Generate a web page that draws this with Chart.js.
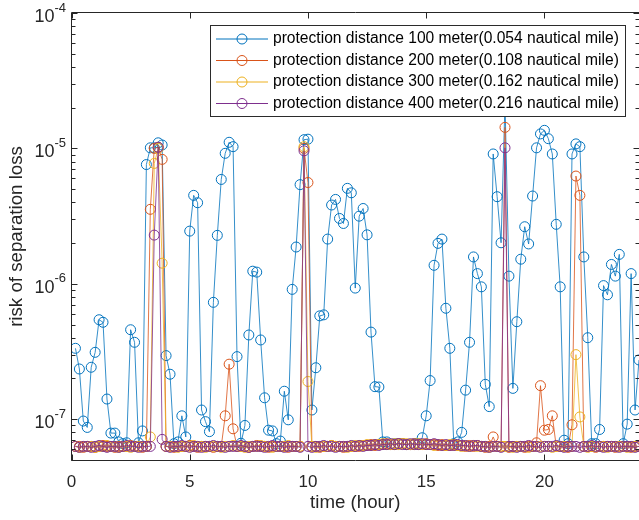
<!DOCTYPE html>
<html>
<head>
<meta charset="utf-8">
<script src="https://cdn.jsdelivr.net/npm/chart.js@4.4.1/dist/chart.umd.min.js"></script>
<style>
  html, body { margin: 0; padding: 0; background: #ffffff; }
  #wrap { width: 639px; height: 520px; position: relative; }
</style>
</head>
<body>
<div id="wrap"><canvas id="chart" width="639" height="520"></canvas></div>
<script>
// Samples every 10 minutes over one day (10 min ... 1440 min).
const STEP_MINUTES = 10;
const SAMPLE_COUNT = 144;
const timeHours = Array.from({ length: SAMPLE_COUNT }, (_, i) => (i + 1) * STEP_MINUTES / 60);

// Risk of separation loss, in units of 1e-8 (12 samples = 2 hours per row).
const RISK_UNIT = 1e-8;

const risk100m = [
  33.4, 23.5, 9.7, 8.7, 24.2, 31.2, 54.3, 52, 14.1, 7.9, 7.9, 6.8,
  6.6, 6.7, 45.8, 37, 6.7, 8.2, 760, 1010, 1010, 1100, 1060, 29.5,
  21.5, 6.6, 6.8, 10.6, 7.4, 245, 450, 397, 11.7, 9.6, 8.1, 73,
  228, 590, 920, 1110, 1030, 29, 6.65, 9.0, 41.9, 124, 122, 38.5,
  14.4, 8.3, 8.2, 6.6, 6.9, 16.1, 9.9, 91, 187, 540, 1160, 1170,
  11.7, 24, 58, 59, 214, 382, 420, 304, 279, 507, 470, 93,
  316, 360, 230, 44, 17.4, 17.3, 6.8, 6.8, 6.5, 6.6, 6.6, 6.6,
  6.5, 6.5, 6.6, 6.6, 7.3, 10.6, 19.3, 137, 199, 214, 66, 33.4,
  6.6, 6.8, 8.0, 16.4, 37, 158, 119, 95, 18.1, 12.4, 910, 440,
  201, 2200, 114, 16.9, 52.5, 152, 264, 197, 445, 1010, 1280, 1360,
  1180, 910, 275, 95, 7.0, 6.6, 910, 1080, 1030, 158, 40, 6.6,
  6.6, 8.4, 97, 83, 139, 114, 165, 6.6, 9.2, 119, 11.7, 27.4
];

const risk200m = [
  6.3, 6.3, 6.2, 6.3, 6.3, 6.2, 6.3, 6.4, 6.3, 6.3, 6.2, 6.3,
  6.3, 6.3, 6.4, 6.3, 6.3, 6.2, 6.3, 355, 1000, 1020, 830, 6.3,
  6.3, 6.2, 6.3, 6.3, 6.3, 6.4, 6.3, 6.2, 6.3, 6.3, 6.3, 6.2,
  6.3, 6.3, 10.6, 25.5, 8.5, 6.3, 6.3, 6.3, 6.2, 6.3, 6.4, 6.3,
  6.3, 6.2, 6.3, 6.3, 6.3, 6.3, 6.2, 6.3, 6.3, 6.3, 1000, 560,
  6.3, 6.3, 6.2, 6.3, 6.3, 6.4, 6.3, 6.3, 6.2, 6.3, 6.3, 6.3,
  6.3, 6.4, 6.4, 6.5, 6.4, 6.5, 6.5, 6.6, 6.5, 6.5, 6.6, 6.6,
  6.5, 6.5, 6.6, 6.5, 6.5, 6.6, 6.5, 6.5, 6.4, 6.5, 6.4, 6.4,
  6.5, 6.4, 6.4, 6.3, 6.4, 6.3, 6.4, 6.3, 6.2, 6.3, 7.4, 6.3,
  6.3, 1430, 6.2, 6.3, 6.3, 6.3, 6.2, 6.3, 6.3, 6.7, 17.7, 8.3,
  8.4, 10.6, 6.3, 6.3, 6.3, 6.2, 9.1, 625, 450, 6.3, 6.3, 6.3,
  6.2, 6.3, 6.3, 6.3, 6.3, 6.2, 6.3, 6.3, 6.3, 6.2, 6.3, 6.3
];

const risk300m = [
  6.3, 6.2, 6.3, 6.3, 6.3, 6.2, 6.3, 6.3, 6.4, 6.3, 6.3, 6.2,
  6.3, 6.3, 6.2, 6.3, 6.3, 6.3, 6.3, 7.4, 775, 1000, 142, 6.3,
  6.3, 6.3, 6.2, 6.3, 6.3, 6.3, 6.4, 6.3, 6.3, 6.2, 6.3, 6.3,
  6.3, 6.2, 6.3, 6.3, 6.4, 6.3, 6.3, 6.2, 6.3, 6.3, 6.3, 6.4,
  6.3, 6.3, 6.2, 6.3, 6.3, 6.3, 6.4, 6.3, 6.3, 6.3, 1030, 19,
  6.3, 6.2, 6.3, 6.3, 6.3, 6.4, 6.3, 6.3, 6.3, 6.2, 6.3, 6.4,
  6.4, 6.4, 6.5, 6.4, 6.5, 6.5, 6.6, 6.5, 6.5, 6.6, 6.5, 6.6,
  6.6, 6.5, 6.5, 6.6, 6.5, 6.5, 6.5, 6.4, 6.5, 6.4, 6.4, 6.5,
  6.4, 6.4, 6.3, 6.4, 6.3, 6.4, 6.3, 6.3, 6.3, 6.2, 6.3, 6.3,
  6.3, 6.3, 6.3, 6.2, 6.3, 6.3, 6.3, 6.2, 6.3, 6.3, 6.3, 6.3,
  6.3, 6.2, 6.3, 6.3, 6.3, 6.3, 6.3, 30, 10.4, 6.3, 6.2, 6.3,
  6.3, 6.3, 6.3, 6.2, 6.3, 6.3, 6.3, 6.3, 6.2, 6.3, 6.3, 6.3
];

const risk400m = [
  6.3, 6.2, 6.3, 6.3, 6.2, 6.3, 6.4, 6.3, 6.2, 6.3, 6.3, 6.2,
  6.3, 6.4, 6.3, 6.3, 6.2, 6.3, 6.3, 6.3, 229, 1020, 7.1, 6.3,
  6.2, 6.3, 6.3, 6.4, 6.3, 6.2, 6.3, 6.3, 6.2, 6.3, 6.3, 6.4,
  6.3, 6.3, 6.2, 6.3, 6.3, 6.3, 6.4, 6.3, 6.2, 6.3, 6.3, 6.3,
  6.2, 6.3, 6.4, 6.3, 6.3, 6.2, 6.3, 6.3, 6.3, 6.2, 960, 6.3,
  6.2, 6.3, 6.3, 6.4, 6.3, 6.3, 6.2, 6.3, 6.3, 6.3, 6.4, 6.3,
  6.4, 6.3, 6.4, 6.4, 6.5, 6.4, 6.5, 6.5, 6.6, 6.5, 6.6, 6.5,
  6.5, 6.6, 6.5, 6.5, 6.6, 6.5, 6.5, 6.6, 6.5, 6.4, 6.5, 6.4,
  6.4, 6.5, 6.4, 6.4, 6.3, 6.4, 6.4, 6.3, 6.3, 6.2, 6.3, 6.3,
  6.2, 1010, 6.3, 6.3, 6.2, 6.3, 6.3, 6.4, 6.3, 6.3, 6.2, 6.3,
  6.3, 6.3, 6.4, 6.3, 6.2, 6.3, 6.3, 6.3, 6.2, 6.3, 6.3, 6.4,
  6.3, 6.3, 6.2, 6.3, 6.3, 6.3, 6.2, 6.3, 6.3, 6.3, 6.2, 6.3
];

const seriesLabels = [
  'protection distance 100 meter(0.054 nautical mile)',
  'protection distance 200 meter(0.108 nautical mile)',
  'protection distance 300 meter(0.162 nautical mile)',
  'protection distance 400 meter(0.216 nautical mile)'
];
const seriesColors = ['#0072BD', '#D95319', '#EDB120', '#7E2F8E'];

const xTicks = [0, 5, 10, 15, 20];
const yTickExponents = [-7, -6, -5, -4];
const xRange = [0, 24];
const yRange = [5e-8, 1e-4];
const xTitle = 'time (hour)';
const yTitle = 'risk of separation loss';

const FONT = '"Liberation Sans", Arial, Helvetica, sans-serif';
const INK = '#262626';

const toPoints = (vals) => vals.map((v, i) => ({ x: timeHours[i], y: v * RISK_UNIT }));
const allSeries = [risk100m, risk200m, risk300m, risk400m];

const datasets = allSeries.map((vals, k) => ({
  label: seriesLabels[k],
  data: toPoints(vals),
  borderColor: seriesColors[k],
  pointBorderColor: seriesColors[k],
  pointBackgroundColor: 'rgba(0,0,0,0)',
  borderWidth: 0.8,
  pointRadius: 5,
  pointBorderWidth: 1,
  pointStyle: 'circle',
  tension: 0,
  fill: false,
  // later series are painted over earlier ones
  order: allSeries.length - k
}));

// Box axes with inward tick marks, tick labels, titles and an in-plot legend.
const axesPlugin = {
  id: 'boxAxes',
  afterDatasetsDraw(chart) {
    const { ctx, chartArea: a } = chart;
    const xs = chart.scales.x, ys = chart.scales.y;
    const L = Math.round(a.left) - 0.5, R = Math.round(a.right) + 0.5;
    const T = Math.round(a.top) - 0.5, B = Math.round(a.bottom) + 0.5;
    ctx.save();
    ctx.strokeStyle = INK;
    ctx.lineWidth = 1;
    ctx.beginPath();
    ctx.moveTo(L, T); ctx.lineTo(R, T); ctx.lineTo(R, B); ctx.lineTo(L, B); ctx.closePath();
    ctx.stroke();

    // x ticks (bottom and top)
    ctx.beginPath();
    xTicks.forEach(v => {
      const px = Math.round(xs.getPixelForValue(v)) + 0.5;
      ctx.moveTo(px, B); ctx.lineTo(px, B - 6);
      ctx.moveTo(px, T); ctx.lineTo(px, T + 6);
    });
    // y ticks (left and right), majors and log minors
    for (let e = -8; e <= -4; e++) {
      for (let m = 1; m <= 9; m++) {
        const v = m * Math.pow(10, e);
        if (v < yRange[0] * 0.999 || v > yRange[1] * 1.001) continue;
        const py = Math.round(ys.getPixelForValue(v)) + 0.5;
        const len = m === 1 ? 6 : 4;
        ctx.moveTo(L, py); ctx.lineTo(L + len, py);
        ctx.moveTo(R, py); ctx.lineTo(R - len, py);
      }
    }
    ctx.stroke();

    ctx.fillStyle = INK;
    // x tick labels
    ctx.font = '17px ' + FONT;
    ctx.textAlign = 'center';
    ctx.textBaseline = 'middle';
    xTicks.forEach(v => ctx.fillText(String(v), xs.getPixelForValue(v), 482));

    // y tick labels as 10 with a raised exponent
    yTickExponents.forEach(e => {
      const py = ys.getPixelForValue(Math.pow(10, e));
      const expText = String(e);
      ctx.font = '13px ' + FONT;
      const ew = ctx.measureText(expText).width;
      const right = 66;
      ctx.textAlign = 'left';
      ctx.textBaseline = 'middle';
      ctx.fillText(expText, right - ew, py - 5);
      ctx.font = '18px ' + FONT;
      ctx.textAlign = 'right';
      ctx.fillText('10', right - ew, py + 4);
    });

    // axis titles
    ctx.font = '18.7px ' + FONT;
    ctx.textAlign = 'center';
    ctx.textBaseline = 'middle';
    ctx.fillText(xTitle, (a.left + a.right) / 2, 503);
    ctx.save();
    ctx.translate(17, (a.top + a.bottom) / 2);
    ctx.rotate(-Math.PI / 2);
    ctx.fillText(yTitle, 0, 0);
    ctx.restore();

    // legend
    const box = { left: 210.5, top: 25.5, right: 625.5, bottom: 116.5 };
    ctx.fillStyle = '#ffffff';
    ctx.fillRect(box.left, box.top, box.right - box.left, box.bottom - box.top);
    ctx.strokeStyle = '#2b2b2b';
    ctx.strokeRect(box.left, box.top, box.right - box.left, box.bottom - box.top);
    const rowY = [39, 60.5, 82, 103.5];
    seriesLabels.forEach((label, k) => {
      const yy = rowY[k];
      ctx.strokeStyle = seriesColors[k];
      ctx.lineWidth = 1;
      ctx.beginPath();
      ctx.moveTo(216, yy); ctx.lineTo(268, yy);
      ctx.stroke();
      ctx.beginPath();
      ctx.arc(242, yy, 5, 0, Math.PI * 2);
      ctx.stroke();
      ctx.fillStyle = '#000000';
      ctx.font = '15.6px ' + FONT;
      ctx.textAlign = 'left';
      ctx.textBaseline = 'middle';
      ctx.fillText(label, 273, yy);
    });
    ctx.restore();
  }
};

new Chart(document.getElementById('chart'), {
  type: 'line',
  data: { datasets },
  options: {
    responsive: false,
    animation: false,
    devicePixelRatio: 1,
    layout: { autoPadding: false, padding: { left: 71.5, top: 13, right: 0, bottom: 60 } },
    plugins: { legend: { display: false }, tooltip: { enabled: false } },
    scales: {
      x: { type: 'linear', display: false, min: xRange[0], max: xRange[1] },
      y: { type: 'logarithmic', display: false, min: yRange[0], max: yRange[1] }
    }
  },
  plugins: [axesPlugin]
});
</script>
</body>
</html>
